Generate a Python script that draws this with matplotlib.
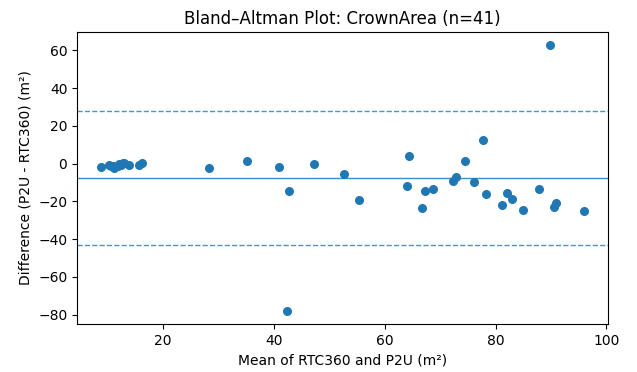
import matplotlib
matplotlib.use("Agg")
import matplotlib.pyplot as plt

mean_vals = [8.8, 10.2, 10.6, 11.0, 11.2, 11.8, 12.0, 12.4, 12.8, 13.0, 13.9, 15.6, 16.2,
             28.2, 35.1,
             40.9, 42.7, 47.3, 52.7, 55.3, 64.3, 64.1, 67.3, 68.8, 66.8, 72.3, 72.9,
             77.7, 74.5, 76.1, 78.2, 82.1, 83.0, 81.2, 84.9, 87.8, 90.9, 90.6, 95.9,
             89.9, 42.3]
diff_vals = [-1.6, -0.8, -1.2, -1.5, -2.5, -1.1, -0.3, -0.7, 0.5, 0.2, -0.7, -0.7, 0.5,
             -2.2, 1.4,
             -2.0, -14.8, -0.4, -5.5, -19.4, 4.2, -12.0, -14.6, -13.3, -23.5, -9.2, -7.2,
             12.6, 1.4, -9.9, -16.1, -15.5, -18.9, -22.2, -24.7, -13.4, -20.7, -22.8, -25.0,
             62.7, -78.0]

bias = -7.6
upper_loa = 27.8
lower_loa = -43.4

fig = plt.figure(figsize=(6.37, 3.72), dpi=100)
ax = fig.add_subplot(111)
fig.subplots_adjust(left=0.121, right=0.954, top=0.914, bottom=0.129)

ax.scatter(mean_vals, diff_vals, s=30, color="#1f77b4", zorder=3)
ax.axhline(bias, color="#1f77b4", linewidth=1.0, alpha=0.85)
ax.axhline(upper_loa, color="#1f77b4", linewidth=1.0, linestyle="--", alpha=0.8)
ax.axhline(lower_loa, color="#1f77b4", linewidth=1.0, linestyle="--", alpha=0.8)

ax.set_title("Bland–Altman Plot: CrownArea (n=41)")
ax.set_xlabel("Mean of RTC360 and P2U (m²)")
ax.set_ylabel("Difference (P2U - RTC360) (m²)")
ax.set_yticks([-80, -60, -40, -20, 0, 20, 40, 60])

fig.savefig("out.png", dpi=100)
